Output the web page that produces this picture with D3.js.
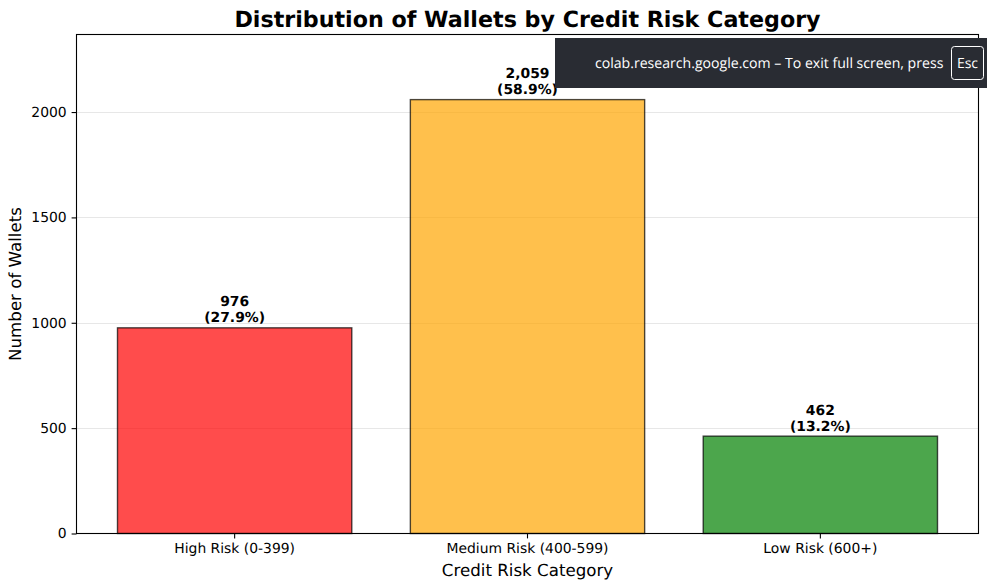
<!DOCTYPE html>
<html>
<head>
<meta charset="utf-8">
<script src="https://cdn.jsdelivr.net/npm/d3@7"></script>
<style>
  html, body { margin: 0; padding: 0; background: #fff; }
  svg { display: block; }
  text { font-family: "DejaVu Sans", sans-serif; fill: #000; text-rendering: geometricPrecision; }
</style>
</head>
<body>
<div id="chart"></div>
<script>
var categories = ["High Risk (0-399)", "Medium Risk (400-599)", "Low Risk (600+)"];
var counts = [976, 2059, 462];
var countLabels = ["976", "2,059", "462"];
var shares = ["(27.9%)", "(58.9%)", "(13.2%)"];
var colors = ["#ff0000", "#ffa500", "#008000"];
var yTicks = [0, 500, 1000, 1500, 2000];

var width = 987, height = 587;
var plot = {left: 76.5, right: 978.5, top: 34.5, bottom: 533.5};

var svg = d3.select("#chart").append("svg")
  .attr("width", width)
  .attr("height", height);

var x = d3.scaleBand()
  .domain(categories)
  .range([117.5, 937.5])
  .paddingInner(0.2)
  .paddingOuter(0);

var y = d3.scaleLinear()
  .domain([0, 2368])
  .range([plot.bottom, plot.top]);

// grid
svg.append("g")
  .selectAll("line")
  .data(yTicks.slice(1))
  .join("line")
  .attr("x1", plot.left)
  .attr("x2", plot.right)
  .attr("y1", d => Math.round(y(d)) + 0.5)
  .attr("y2", d => Math.round(y(d)) + 0.5)
  .attr("stroke", "#b0b0b0")
  .attr("stroke-opacity", 0.3)
  .attr("stroke-width", 1.1);

// bars
svg.append("g")
  .selectAll("rect")
  .data(categories)
  .join("rect")
  .attr("x", d => x(d))
  .attr("y", (d, i) => y(counts[i]))
  .attr("width", x.bandwidth())
  .attr("height", (d, i) => y(0) - y(counts[i]))
  .attr("fill", (d, i) => colors[i])
  .attr("fill-opacity", 0.7)
  .attr("stroke", "#000")
  .attr("stroke-opacity", 0.7)
  .attr("stroke-width", 1.4);

// value labels
var labels = svg.append("g")
  .selectAll("text")
  .data(categories)
  .join("text")
  .attr("text-anchor", "middle")
  .attr("font-size", 13.9)
  .attr("font-weight", "bold");

labels.append("tspan")
  .attr("x", d => x(d) + x.bandwidth() / 2)
  .attr("y", (d, i) => y(counts[i]) - 21.5)
  .text((d, i) => countLabels[i]);

labels.append("tspan")
  .attr("x", d => x(d) + x.bandwidth() / 2)
  .attr("y", (d, i) => y(counts[i]) - 5.5)
  .text((d, i) => shares[i]);

// axes
var xAxis = d3.axisBottom(x).tickSize(4.9).tickPadding(4.9);
var yAxis = d3.axisLeft(y).tickValues(yTicks).tickFormat(d3.format("d")).tickSize(4.9).tickPadding(4.9);

var gx = svg.append("g")
  .attr("transform", "translate(0," + plot.bottom + ")")
  .call(xAxis);
var gy = svg.append("g")
  .attr("transform", "translate(" + plot.left + ",0)")
  .call(yAxis);

gx.select(".domain").remove();
gy.select(".domain").remove();
gx.selectAll("text").attr("font-size", 13.9).attr("font-family", '"DejaVu Sans"');
gy.selectAll("text").attr("font-size", 13.9).attr("font-family", '"DejaVu Sans"');
gx.selectAll("line").attr("stroke-width", 1.1);
gy.selectAll("line").attr("stroke-width", 1.1);

svg.append("rect")
  .attr("x", plot.left)
  .attr("y", plot.top)
  .attr("width", plot.right - plot.left)
  .attr("height", plot.bottom - plot.top)
  .attr("fill", "none")
  .attr("stroke", "#000")
  .attr("stroke-width", 1.1);

// titles
svg.append("text")
  .attr("x", (plot.left + plot.right) / 2)
  .attr("y", 26.5)
  .attr("text-anchor", "middle")
  .attr("font-size", 22.2)
  .attr("font-weight", "bold")
  .text("Distribution of Wallets by Credit Risk Category");

svg.append("text")
  .attr("x", (plot.left + plot.right) / 2)
  .attr("y", 576)
  .attr("text-anchor", "middle")
  .attr("font-size", 16.67)
  .text("Credit Risk Category");

svg.append("text")
  .attr("transform", "translate(20.5," + (plot.top + plot.bottom) / 2 + ") rotate(-90)")
  .attr("text-anchor", "middle")
  .attr("font-size", 16.67)
  .text("Number of Wallets");

// fullscreen notice over the chart
var notice = svg.append("g");
notice.append("rect")
  .attr("x", 555)
  .attr("y", 38)
  .attr("width", 432)
  .attr("height", 50)
  .attr("fill", "#292c33");
notice.append("text")
  .attr("x", 595)
  .attr("y", 68)
  .attr("font-size", 14.1)
  .style("font-family", '"Open Sans", sans-serif')
  .style("fill", "#fff")
  .text("colab.research.google.com – To exit full screen, press");
notice.append("rect")
  .attr("x", 951.5)
  .attr("y", 46.5)
  .attr("width", 32)
  .attr("height", 33)
  .attr("rx", 3)
  .attr("fill", "none")
  .attr("stroke", "#fff");
notice.append("text")
  .attr("x", 967.5)
  .attr("y", 68)
  .attr("text-anchor", "middle")
  .attr("font-size", 14)
  .style("font-family", '"Open Sans", sans-serif')
  .style("fill", "#fff")
  .text("Esc");
</script>
</body>
</html>
